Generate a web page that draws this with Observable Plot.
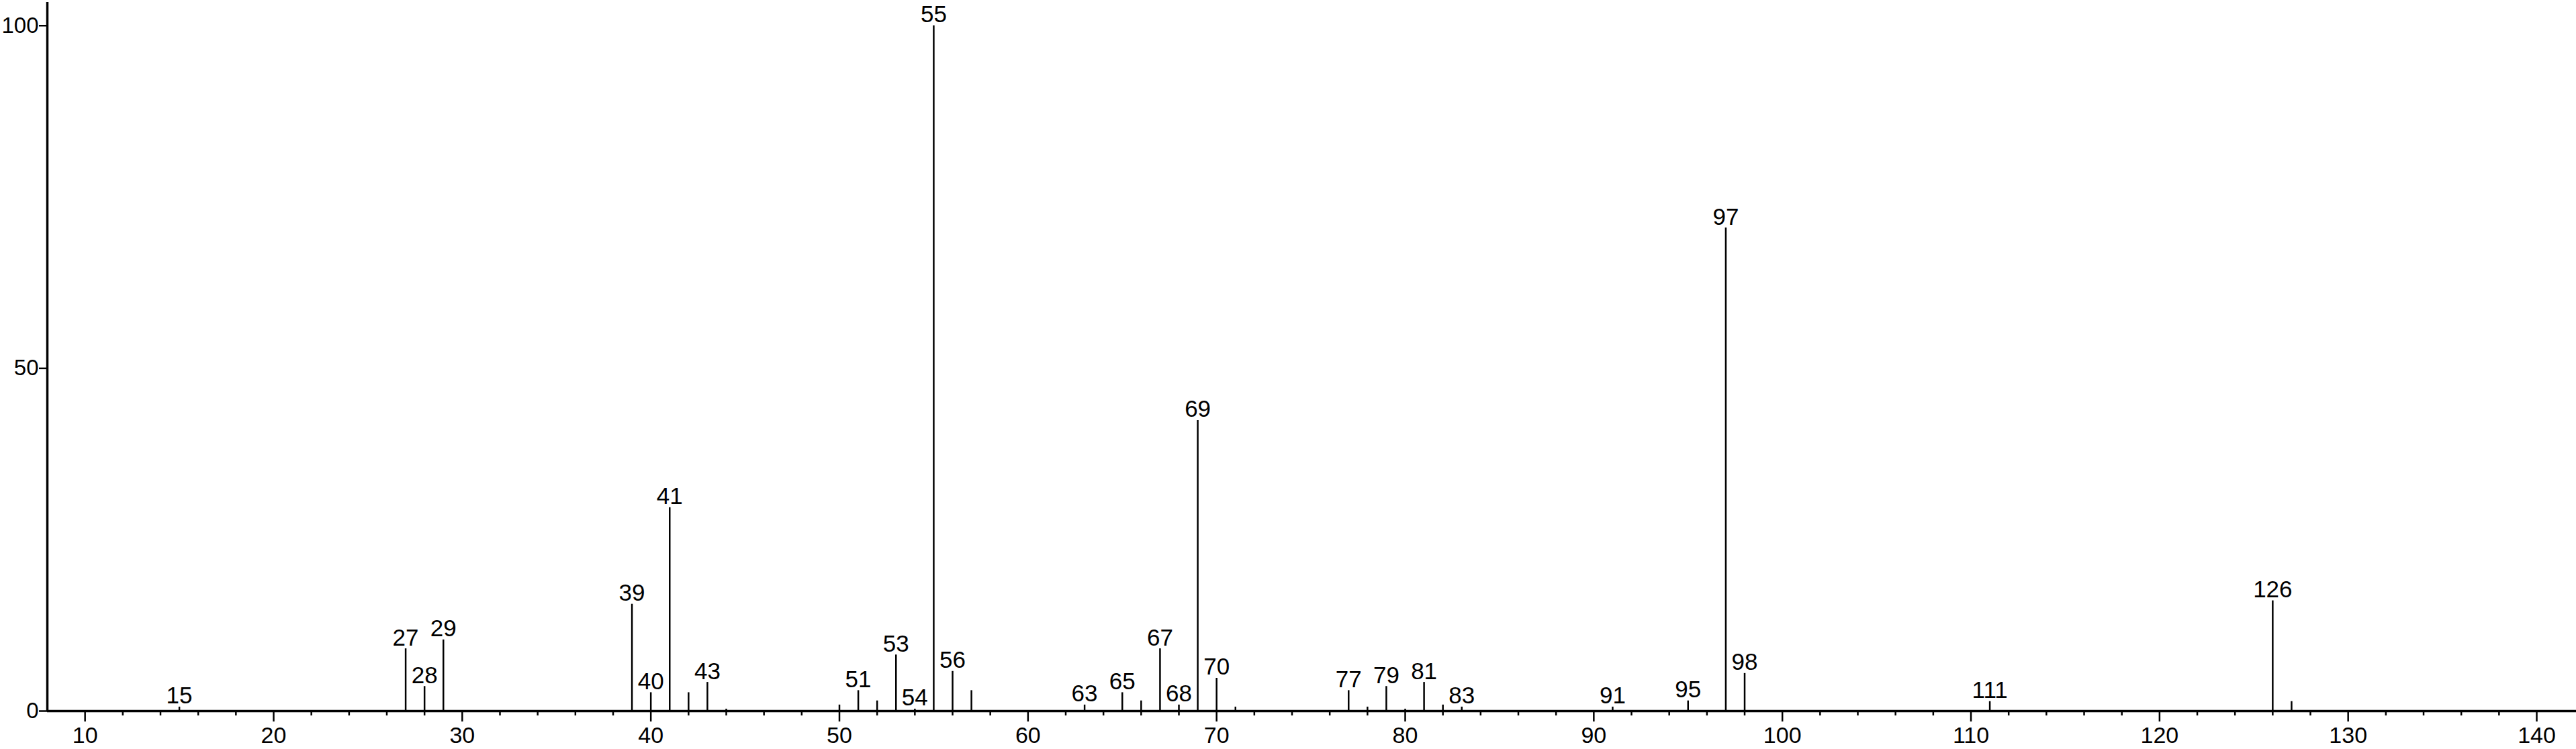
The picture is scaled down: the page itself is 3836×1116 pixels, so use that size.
<!DOCTYPE html>
<html>
<head>
<meta charset="utf-8">
<script src="https://cdn.jsdelivr.net/npm/d3@7"></script>
<script src="https://cdn.jsdelivr.net/npm/@observablehq/plot@0.6"></script>
<style>
  html, body { margin: 0; padding: 0; background: #fff; }
  #chart svg { display: block; }
</style>
</head>
<body>
<div id="chart"></div>
<script>
// m/z values of the peaks
const mz = [15,27,28,29,39,40,41,42,43,44,50,51,52,53,54,55,56,57,63,65,66,67,68,69,70,71,77,78,79,80,81,82,83,91,95,97,98,111,126,127];
// relative intensities (%)
const intensity = [0.6,9.1,3.6,10.4,15.6,2.7,29.7,2.7,4.2,0.3,0.9,3.0,1.5,8.2,0.3,100,5.8,3.0,0.9,2.7,1.5,9.1,0.9,42.4,4.8,0.6,3.0,0.6,3.6,0.3,4.2,0.9,0.6,0.6,1.5,70.5,5.5,1.4,16.1,1.4];
// peaks that carry a label
const labeled = [15,27,28,29,39,40,41,43,51,53,54,55,56,63,65,67,68,69,70,77,79,81,83,91,95,97,98,111,126];
// axis ticks
const xMajorTicks = [10,20,30,40,50,60,70,80,90,100,110,120,130,140];
const xMinorTicks = d3.range(12, 142, 2).filter(d => d % 10 !== 0);
const yTicks = [0, 50, 100];

const peaks = mz.map((m, i) => ({mz: m, intensity: intensity[i]}));
const labelRows = peaks.filter(d => labeled.includes(d.mz));

const font = "Liberation Sans, Arial, Helvetica, sans-serif";

const chart = Plot.plot({
  width: 3836,
  height: 1116,
  marginLeft: 70,
  marginRight: 0,
  marginTop: 3,
  marginBottom: 57,
  style: {fontFamily: font, fontSize: "35px", background: "#fff", color: "#000"},
  x: {domain: [8, 142.1]},
  y: {domain: [0, 103.4]},
  marks: [
    Plot.axisX(xMinorTicks, {tickSize: 7, strokeWidth: 2.5, text: null, label: null}),
    Plot.axisX(xMajorTicks, {tickSize: 16, tickPadding: 7, strokeWidth: 2.5, fontSize: 34, label: null}),
    Plot.axisY(yTicks, {tickSize: 12, tickPadding: 1, strokeWidth: 2.5, fontSize: 33, label: null}),
    Plot.ruleX(peaks, {x: "mz", y1: 0, y2: "intensity", stroke: "#000", strokeWidth: 2.5}),
    Plot.ruleY([0], {stroke: "#000", strokeWidth: 3.5}),
    Plot.ruleX([8], {stroke: "#000", strokeWidth: 3.5}),
    Plot.text(labelRows, {x: "mz", y: "intensity", text: d => String(d.mz), lineAnchor: "bottom", dy: -5, fontSize: 35, fill: "#000"})
  ]
});
document.getElementById("chart").appendChild(chart);
</script>
</body>
</html>
